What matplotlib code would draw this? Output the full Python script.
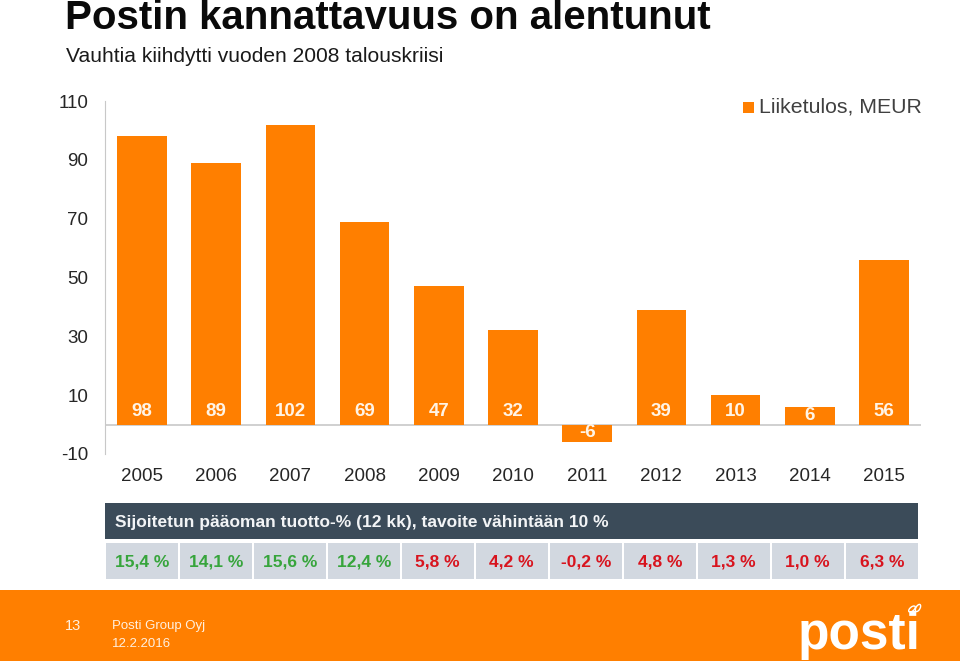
from matplotlib import pyplot as plt
from matplotlib.patches import Rectangle, Ellipse

plt.rcParams['font.family'] = ['Liberation Sans', 'DejaVu Sans']
plt.rcParams['axes.unicode_minus'] = False

years = ['2005', '2006', '2007', '2008', '2009', '2010', '2011', '2012', '2013', '2014', '2015']
result = [98, 89, 102, 69, 47, 32, -6, 39, 10, 6, 56]
roce = ['15,4 %', '14,1 %', '15,6 %', '12,4 %', '5,8 %', '4,2 %', '-0,2 %', '4,8 %', '1,3 %', '1,0 %', '6,3 %']
roce_ok = [True, True, True, True, False, False, False, False, False, False, False]
y_ticks = [-10, 10, 30, 50, 70, 90, 110]

ORANGE = '#ff7f00'
W, H = 960, 661

fig = plt.figure(figsize=(9.6, 6.61), dpi=100)

# overlay in pixel coords for title, table and footer
bg = fig.add_axes([0, 0, 1, 1])
bg.set_xlim(0, W)
bg.set_ylim(H, 0)
bg.axis('off')

bg.text(65, 18, 'Postin kannattavuus on alentunut', fontsize=29, fontweight='bold',
        color='#0a0a0a', va='center', ha='left')
bg.text(66, 56, 'Vauhtia kiihdytti vuoden 2008 talouskriisi', fontsize=15.1,
        color='#1a1a1a', va='center', ha='left')

# chart
ax = fig.add_axes([105 / W, 1 - 454 / H, (921 - 105) / W, (454 - 101) / H])
ax.patch.set_alpha(0)
ax.bar(range(len(years)), result, width=0.67, color=ORANGE, zorder=2)
ax.set_xlim(-0.5, 10.5)
ax.set_ylim(-10, 110)
ax.set_yticks(y_ticks)
ax.set_xticks([])
ax.tick_params(axis='y', length=0, labelsize=13.5, pad=12, labelcolor='#262626')
for s in ['top', 'right', 'bottom']:
    ax.spines[s].set_visible(False)
ax.spines['left'].set_color('#c8c8c8')
ax.axhline(0, color='#c8c8c8', lw=1.2, zorder=1)

for i, v in enumerate(result):
    if v < 0:
        yl = -2.6
    elif v == 6:
        yl = 3.2
    else:
        yl = 4.5
    ax.text(i, yl, str(v), color='#fff4e6', fontsize=13.5, fontweight='bold', ha='center',
            va='center', zorder=3)
    ax.text(i, -17.7, years[i], color='#262626', fontsize=13.5, ha='center', va='center',
            clip_on=False)

# legend
bg.add_patch(Rectangle((743, 102), 11, 11, color=ORANGE, lw=0))
bg.text(759, 107, 'Liiketulos, MEUR', fontsize=15.3, color='#404040', va='center', ha='left')

# table
bg.add_patch(Rectangle((105, 503), 813, 36, color='#3b4b59', lw=0))
bg.text(115, 522, 'Sijoitetun pääoman tuotto-% (12 kk), tavoite vähintään 10 %', fontsize=12.5,
        fontweight='bold', color='#f2f4f6', va='center', ha='left')
cell_w = 74.0
for i, txt in enumerate(roce):
    x0 = 105.5 + i * cell_w
    bg.add_patch(Rectangle((x0, 543), cell_w - 1.5, 36, color='#d2d8e0', lw=0))
    col = '#37a53c' if roce_ok[i] else '#d8141e'
    bg.text(x0 + (cell_w - 1.5) / 2, 562, txt, fontsize=12.5, fontweight='bold', color=col,
            va='center', ha='center')

# footer
bg.add_patch(Rectangle((0, 590), W, H - 590, color=ORANGE, lw=0))
bg.text(72.5, 626, '13', fontsize=10.5, color='#fff0e0', va='center', ha='center')
bg.text(112, 626, 'Posti Group Oyj', fontsize=9.5, color='#fff0e0', va='center', ha='left')
bg.text(112, 644, '12.2.2016', fontsize=9.5, color='#fff0e0', va='center', ha='left')
bg.text(798, 635, 'posti', fontsize=37, fontweight='bold', color='white', va='center', ha='left')
# ribbon on the logo
bg.add_patch(Ellipse((912, 609), 8, 4, angle=-40, fill=False, ec='white', lw=1))
bg.add_patch(Ellipse((918, 608), 8, 4, angle=-60, fill=False, ec='white', lw=1))

fig.savefig('out.png', dpi=100)
